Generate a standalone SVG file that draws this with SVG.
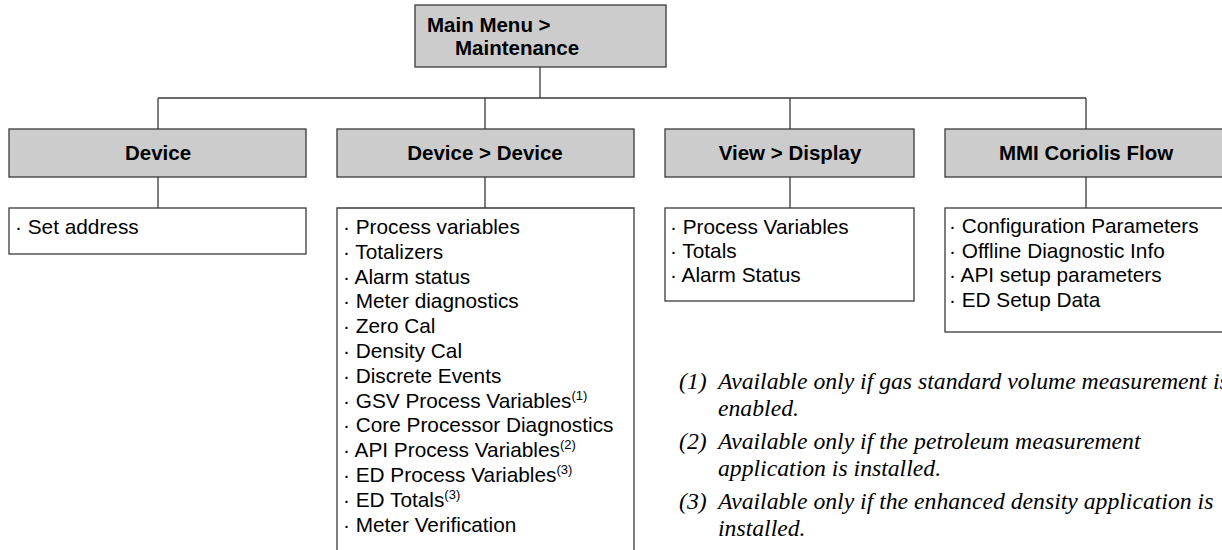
<svg xmlns="http://www.w3.org/2000/svg" width="1222" height="550" viewBox="0 0 1222 550">
<style>
.hdr{fill:#cccccc;stroke:#3a3a3a;stroke-width:1.3}
.box{fill:#ffffff;stroke:#3a3a3a;stroke-width:1.3}
.ln{stroke:#3a3a3a;stroke-width:1.3;fill:none}
.ht{font-family:"Liberation Sans",Arial,sans-serif;font-size:20.5px;font-weight:bold;fill:#000}
.it{font-family:"Liberation Sans",Arial,sans-serif;font-size:20.8px;fill:#000}
.sup{font-size:13px}
.fn{font-family:"Liberation Serif","Times New Roman",serif;font-size:23.7px;font-style:italic;fill:#000}
</style>
<rect width="1222" height="550" fill="#ffffff"/>
<g id="connectors">
<path class="ln" d="M540,67 V98 M158,98 H1086 M158,98 V129 M485,98 V129 M790,98 V129 M1086,98 V129"/>
<path class="ln" d="M158,177 V208 M485,177 V208 M790,177 V208 M1086,177 V208"/>
</g>
<g id="main">
<rect class="hdr" x="415" y="5" width="251" height="62"/>
<text class="ht" x="427" y="32">Main Menu &gt;</text>
<text class="ht" x="455" y="55">Maintenance</text>
</g>
<g id="device">
<rect class="hdr" x="9" y="129" width="297" height="48"/>
<text class="ht" x="158" y="160" text-anchor="middle">Device</text>
</g>
<g id="device-items">
<rect class="box" x="9" y="208" width="297" height="46"/>
<text class="it" x="15" y="234">· Set address</text>
</g>
<g id="devdev">
<rect class="hdr" x="337" y="129" width="297" height="48"/>
<text class="ht" x="485" y="160" text-anchor="middle">Device &gt; Device</text>
</g>
<g id="devdev-items">
<path class="box" d="M337,560 V208 H634 V560"/>
<text class="it" x="343" y="234">· Process variables</text>
<text class="it" x="343" y="258.8">· Totalizers</text>
<text class="it" x="343" y="283.6">· Alarm status</text>
<text class="it" x="343" y="308.4">· Meter diagnostics</text>
<text class="it" x="343" y="333.2">· Zero Cal</text>
<text class="it" x="343" y="358">· Density Cal</text>
<text class="it" x="343" y="382.8">· Discrete Events</text>
<text class="it" x="343" y="407.6">· GSV Process Variables<tspan class="sup" dy="-8">(1)</tspan></text>
<text class="it" x="343" y="432.4">· Core Processor Diagnostics</text>
<text class="it" x="343" y="457.2">· API Process Variables<tspan class="sup" dy="-8">(2)</tspan></text>
<text class="it" x="343" y="482">· ED Process Variables<tspan class="sup" dy="-8">(3)</tspan></text>
<text class="it" x="343" y="506.8">· ED Totals<tspan class="sup" dy="-8">(3)</tspan></text>
<text class="it" x="343" y="531.6">· Meter Verification</text>
</g>
<g id="view">
<rect class="hdr" x="665" y="129" width="249" height="48"/>
<text class="ht" x="790" y="160" text-anchor="middle">View &gt; Display</text>
</g>
<g id="view-items">
<rect class="box" x="665" y="208" width="249" height="93"/>
<text class="it" x="670" y="233.5">· Process Variables</text>
<text class="it" x="670" y="257.5">· Totals</text>
<text class="it" x="670" y="281.5">· Alarm Status</text>
</g>
<g id="mmi">
<rect class="hdr" x="945" y="129" width="290" height="48"/>
<text class="ht" x="1086" y="160" text-anchor="middle">MMI Coriolis Flow</text>
</g>
<g id="mmi-items">
<rect class="box" x="945" y="208" width="290" height="124"/>
<text class="it" x="949" y="233">· Configuration Parameters</text>
<text class="it" x="949" y="257.5">· Offline Diagnostic Info</text>
<text class="it" x="949" y="282">· API setup parameters</text>
<text class="it" x="949" y="306.5">· ED Setup Data</text>
</g>
<g id="footnotes">
<text class="fn" x="679" y="389">(1)</text>
<text class="fn" x="718" y="389">Available only if gas standard volume measurement is</text>
<text class="fn" x="718" y="416">enabled.</text>
<text class="fn" x="679" y="449">(2)</text>
<text class="fn" x="718" y="449">Available only if the petroleum measurement</text>
<text class="fn" x="718" y="476">application is installed.</text>
<text class="fn" x="679" y="509">(3)</text>
<text class="fn" x="718" y="509">Available only if the enhanced density application is</text>
<text class="fn" x="718" y="536">installed.</text>
</g>
</svg>
